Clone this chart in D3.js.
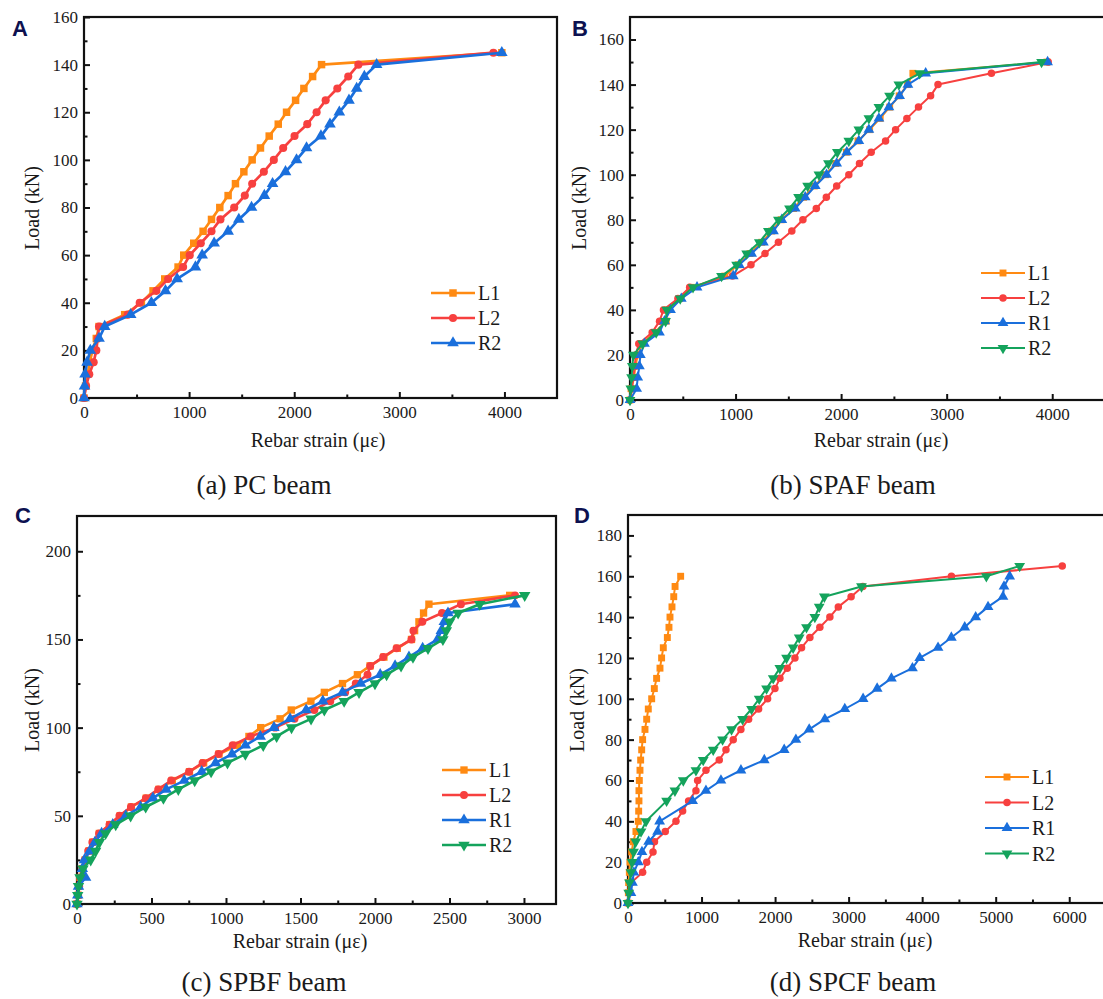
<!DOCTYPE html>
<html lang="en">
<head>
<meta charset="UTF-8">
<title>Load - rebar strain curves</title>
<script src="https://d3js.org/d3.v7.min.js"></script>
<style>
  body { margin: 0; background: #fff; }
  svg text { font-family: "Liberation Serif", "Times New Roman", Tinos, "Nimbus Roman", "DejaVu Serif", serif; fill: #1a1a1a; }
  svg text.tag { font-family: "Liberation Sans", Arial, sans-serif; font-weight: bold; fill: #0d1150; }
</style>
</head>
<body>
<svg id="fig" width="1103" height="999"></svg>
<script>
// ---- panel A : PC beam ----
const loadA = [0,5,10,15,20,25,30,35,40,45,50,55,60,65,70,75,80,85,90,95,100,105,110,115,120,125,130,135,140,145];
const strainA_L1 = [0,15,35,55,80,117,143,387,546,657,768,895,949,1044,1133,1213,1292,1371,1441,1521,1600,1679,1762,1848,1927,2013,2092,2175,2260,3975];
const strainA_L2 = [0,20,50,92,117,130,143,416,530,689,800,943,1006,1111,1213,1298,1429,1530,1600,1711,1806,1895,2003,2124,2213,2299,2410,2514,2610,3895];
const strainA_R2 = [0,5,10,29,60,143,197,444,641,775,886,1060,1124,1238,1371,1473,1594,1716,1794,1917,2022,2117,2254,2340,2429,2521,2594,2667,2784,3975];

// ---- panel B : SPAF beam ----
const loadB = [0,5,10,15,20,25,30,35,40,45,50,55,60,65,70,75,80,85,90,95,100,105,110,115,120,125,130,135,140,145,150];
const strainB_L1 = [0,10,40,50,75,115,232,343,355,470,581,898,1025,1137,1248,1343,1432,1549,1644,1746,1851,1950,2050,2160,2270,2370,2460,2550,2630,2680,3950];
const strainB_L2 = [0,20,30,45,55,83,210,280,317,454,565,971,1146,1279,1406,1533,1638,1765,1860,1958,2073,2174,2285,2421,2516,2623,2733,2848,2918,3424,3962];
const strainB_R1 = [0,63,73,89,98,137,279,327,384,486,635,978,1035,1152,1263,1359,1438,1565,1660,1755,1862,1958,2054,2168,2263,2358,2453,2554,2633,2801,3956];
const strainB_R2 = [0,8,15,22,32,120,248,337,349,476,597,867,1010,1105,1225,1311,1406,1511,1597,1683,1790,1880,1965,2073,2168,2263,2358,2459,2547,2744,3899];

// ---- panel C : SPBF beam ----
const loadC = [0,5,10,15,20,25,30,35,40,45,50,55,60,65,70,75,80,85,90,95,100,105,110,115,120,125,130,135,140,145,150,155,160,165,170,175];
const strainC_L1 = [0,8,12,20,35,55,80,105,150,220,290,365,465,550,640,755,850,953,1076,1154,1233,1363,1438,1570,1660,1782,1882,1967,2060,2150,2245,2266,2295,2326,2362,2904];
const strainC_L2 = [0,8,15,22,35,52,75,103,148,218,285,362,462,545,632,752,843,950,1045,1165,1330,1460,1593,1700,1800,1871,1950,1968,2055,2145,2245,2258,2318,2450,2577,2940];
const loadC_R1 = [0,5,10,15,20,25,30,35,40,45,50,55,60,65,70,75,80,85,90,95,100,105,110,115,120,125,130,135,140,145,150,155,160,165,170];
const strainC_R1 = [0,5,10,58,36,50,85,120,165,240,327,427,510,599,720,837,930,1040,1130,1230,1322,1430,1538,1650,1782,1904,2035,2135,2228,2320,2420,2445,2465,2490,2940];
const strainC_R2 = [0,5,10,20,40,92,125,150,192,260,360,461,580,680,790,900,1010,1130,1250,1340,1440,1571,1660,1793,1893,2000,2078,2175,2255,2356,2456,2479,2501,2558,2703,3005];

// ---- panel D : SPCF beam ----
const loadD_L1 = [0,5,10,15,20,25,30,35,40,45,50,55,60,65,70,75,80,85,90,95,100,105,110,115,120,125,130,135,140,145,150,155,160];
const strainD_L1 = [0,5,9,18,27,50,72,108,140,145,149,149,154,163,172,186,199,231,254,276,322,358,389,435,457,480,535,557,571,598,622,640,716];
const loadD_L2 = [0,10,15,20,25,30,35,40,45,50,55,60,65,70,75,80,85,90,95,100,105,110,115,120,125,130,135,140,145,150,155,160,165];
const strainD_L2 = [0,45,199,254,340,360,507,652,743,824,924,947,1060,1241,1332,1431,1535,1640,1776,1898,1998,2066,2165,2270,2360,2473,2609,2745,2860,3034,3193,4398,5905];
const loadD_R1 = [0,5,10,15,20,25,30,35,40,50,55,60,65,70,75,80,85,90,95,100,105,110,115,120,125,130,135,140,145,150,155,160];
const strainD_R1 = [0,40,60,80,140,190,281,403,430,879,1060,1264,1536,1853,2124,2283,2464,2677,2948,3197,3388,3582,3868,3967,4216,4397,4579,4728,4896,5099,5113,5190];
const loadD_R2 = [0,5,10,15,20,25,30,35,40,50,55,60,65,70,75,80,85,90,95,100,105,110,115,120,125,130,135,140,145,150,155,160,165];
const strainD_R2 = [0,10,20,40,55,75,105,177,245,525,638,752,924,1023,1159,1286,1408,1558,1680,1784,1884,1975,2065,2156,2246,2328,2427,2541,2600,2670,3175,4873,5326];

// ---- tick values ----
const xTicksAB = [0,1000,2000,3000,4000];
const xMinorAB = [500,1500,2500,3500];
const yTicksA = [0,20,40,60,80,100,120,140,160];
const yMinorA = [10,30,50,70,90,110,130,150];
const yTicksB = [0,20,40,60,80,100,120,140,160];
const yMinorB = [10,30,50,70,90,110,130,150];
const xTicksC = [0,500,1000,1500,2000,2500,3000];
const xMinorC = [250,750,1250,1750,2250,2750];
const yTicksC = [0,50,100,150,200];
const yMinorC = [25,75,125,175];
const xTicksD = [0,1000,2000,3000,4000,5000,6000];
const xMinorD = [500,1500,2500,3500,4500,5500];
const yTicksD = [0,20,40,60,80,100,120,140,160,180];
const yMinorD = [10,30,50,70,90,110,130,150,170];

// colour + marker per style key
const STYLE = {
    orange: { color: "#ff8a12", sym: "square" },
    red:    { color: "#f7403f", sym: "circle" },
    blue:   { color: "#1a6fdc", sym: "up" },
    green:  { color: "#14a35c", sym: "down" }
};

const svg = d3.select("#fig");
const SERIF = '"Liberation Serif", "Times New Roman", Tinos, "Nimbus Roman", "DejaVu Serif", serif';

function markerPath(kind, size) {
    if (kind === "square") return d3.symbol(d3.symbolSquare, size)();
    if (kind === "circle") return d3.symbol(d3.symbolCircle, size * 0.92)();
    return d3.symbol(d3.symbolTriangle, size * 1.05)();
}
function markerTf(kind, cx, cy) {
    return `translate(${cx},${cy})` + (kind === "down" ? " rotate(180)" : "");
}

function drawPanel(p) {
    const g = svg.append("g");
    const x = d3.scaleLinear().domain(p.xDomain).range([p.left, p.right]);
    const y = d3.scaleLinear().domain(p.yDomain).range([p.bottom, p.top]);

    // axes, ticks pointing inward
    g.append("g").attr("transform", `translate(0,${p.bottom})`)
        .call(d3.axisBottom(x).tickValues(p.xTicks).tickSize(-6).tickPadding(8).tickFormat(d3.format("d")));
    g.append("g").attr("transform", `translate(0,${p.bottom})`)
        .call(d3.axisBottom(x).tickValues(p.xMinor).tickSize(-3.5).tickFormat(""));
    g.append("g").attr("transform", `translate(${p.left},0)`)
        .call(d3.axisLeft(y).tickValues(p.yTicks).tickSize(-6).tickPadding(6).tickFormat(d3.format("d")));
    g.append("g").attr("transform", `translate(${p.left},0)`)
        .call(d3.axisLeft(y).tickValues(p.yMinor).tickSize(-3.5).tickFormat(""));
    g.selectAll(".domain").remove();
    g.selectAll("g").attr("font-family", null);
    g.selectAll(".tick line").attr("stroke", "#111").attr("stroke-width", 2);
    g.selectAll(".tick text").attr("font-size", 17).attr("fill", "#1a1a1a")
        .style("font-family", SERIF);

    // frame
    g.append("rect")
        .attr("x", p.left).attr("y", p.top)
        .attr("width", p.right - p.left).attr("height", p.bottom - p.top)
        .attr("fill", "none").attr("stroke", "#111").attr("stroke-width", 2.2);

    // series
    const line = d3.line().x(d => x(d[0])).y(d => y(d[1]));
    p.series.forEach(s => {
        const st = STYLE[s.style];
        const pts = s.strain.map((v, i) => [v, s.load[i]]);
        g.append("path").datum(pts)
            .attr("fill", "none").attr("stroke", st.color)
            .attr("stroke-width", p.lw).attr("stroke-linejoin", "round")
            .attr("d", line);
        g.append("g").selectAll("path").data(pts).join("path")
            .attr("d", markerPath(st.sym, p.ms))
            .attr("transform", d => markerTf(st.sym, x(d[0]), y(d[1])))
            .attr("fill", st.color);
    });

    // legend
    p.series.forEach((s, i) => {
        const st = STYLE[s.style];
        const ly = p.legY + i * p.legGap;
        g.append("line")
            .attr("x1", p.legX).attr("x2", p.legX + 44).attr("y1", ly).attr("y2", ly)
            .attr("stroke", st.color).attr("stroke-width", p.lw);
        g.append("path").attr("d", markerPath(st.sym, p.ms))
            .attr("transform", markerTf(st.sym, p.legX + 22, ly))
            .attr("fill", st.color);
        g.append("text").attr("x", p.legX + 47).attr("y", ly + 7)
            .attr("font-size", 20).style("font-family", SERIF).text(s.name);
    });

    // axis titles
    g.append("text").attr("x", p.xTitle[0]).attr("y", p.xTitle[1])
        .attr("text-anchor", "middle").attr("font-size", 20).style("font-family", SERIF)
        .text("Rebar strain (με)");
    g.append("text")
        .attr("transform", `translate(${p.yTitle[0]},${p.yTitle[1]}) rotate(-90)`)
        .attr("text-anchor", "middle").attr("font-size", 20).style("font-family", SERIF)
        .text("Load (kN)");

    // panel tag and caption
    g.append("text").attr("class", "tag").attr("x", p.tag[0]).attr("y", p.tag[1])
        .attr("font-size", 22).text(p.tagText);
    g.append("text").attr("x", p.caption[0]).attr("y", p.caption[1])
        .attr("text-anchor", "middle").attr("font-size", 27).style("font-family", SERIF)
        .text(p.captionText);
}

drawPanel({
    left: 84, right: 557, top: 17, bottom: 398,
    xDomain: [0, 4500], yDomain: [0, 160],
    xTicks: xTicksAB, xMinor: xMinorAB, yTicks: yTicksA, yMinor: yMinorA,
    lw: 2.7, ms: 56,
    series: [
        { name: "L1", style: "orange", load: loadA, strain: strainA_L1 },
        { name: "L2", style: "red", load: loadA, strain: strainA_L2 },
        { name: "R2", style: "blue", load: loadA, strain: strainA_R2 }
    ],
    legX: 431, legY: 293, legGap: 25,
    xTitle: [318, 447], yTitle: [39, 208],
    tag: [12, 36], tagText: "A",
    caption: [264, 494], captionText: "(a) PC beam"
});

drawPanel({
    left: 630, right: 1105, top: 17, bottom: 400,
    xDomain: [0, 4500], yDomain: [0, 170],
    xTicks: xTicksAB, xMinor: xMinorAB, yTicks: yTicksB, yMinor: yMinorB,
    lw: 2, ms: 48,
    series: [
        { name: "L1", style: "orange", load: loadB, strain: strainB_L1 },
        { name: "L2", style: "red", load: loadB, strain: strainB_L2 },
        { name: "R1", style: "blue", load: loadB, strain: strainB_R1 },
        { name: "R2", style: "green", load: loadB, strain: strainB_R2 }
    ],
    legX: 981, legY: 273, legGap: 25,
    xTitle: [881, 447], yTitle: [586, 208],
    tag: [572, 36], tagText: "B",
    caption: [853, 494], captionText: "(b) SPAF beam"
});

drawPanel({
    left: 77, right: 556, top: 516, bottom: 904,
    xDomain: [0, 3215], yDomain: [0, 220],
    xTicks: xTicksC, xMinor: xMinorC, yTicks: yTicksC, yMinor: yMinorC,
    lw: 2.6, ms: 54,
    series: [
        { name: "L1", style: "orange", load: loadC, strain: strainC_L1 },
        { name: "L2", style: "red", load: loadC, strain: strainC_L2 },
        { name: "R1", style: "blue", load: loadC_R1, strain: strainC_R1 },
        { name: "R2", style: "green", load: loadC, strain: strainC_R2 }
    ],
    legX: 442, legY: 770, legGap: 25,
    xTitle: [300, 948], yTitle: [39, 710],
    tag: [15, 523], tagText: "C",
    caption: [264, 991], captionText: "(c) SPBF beam"
});

drawPanel({
    left: 628, right: 1106, top: 515, bottom: 903,
    xDomain: [0, 6500], yDomain: [0, 190],
    xTicks: xTicksD, xMinor: xMinorD, yTicks: yTicksD, yMinor: yMinorD,
    lw: 2, ms: 48,
    series: [
        { name: "L1", style: "orange", load: loadD_L1, strain: strainD_L1 },
        { name: "L2", style: "red", load: loadD_L2, strain: strainD_L2 },
        { name: "R1", style: "blue", load: loadD_R1, strain: strainD_R1 },
        { name: "R2", style: "green", load: loadD_R2, strain: strainD_R2 }
    ],
    legX: 985, legY: 777, legGap: 25.5,
    xTitle: [865, 947], yTitle: [584, 710],
    tag: [574, 523], tagText: "D",
    caption: [853, 991], captionText: "(d) SPCF beam"
});
</script>
</body>
</html>
